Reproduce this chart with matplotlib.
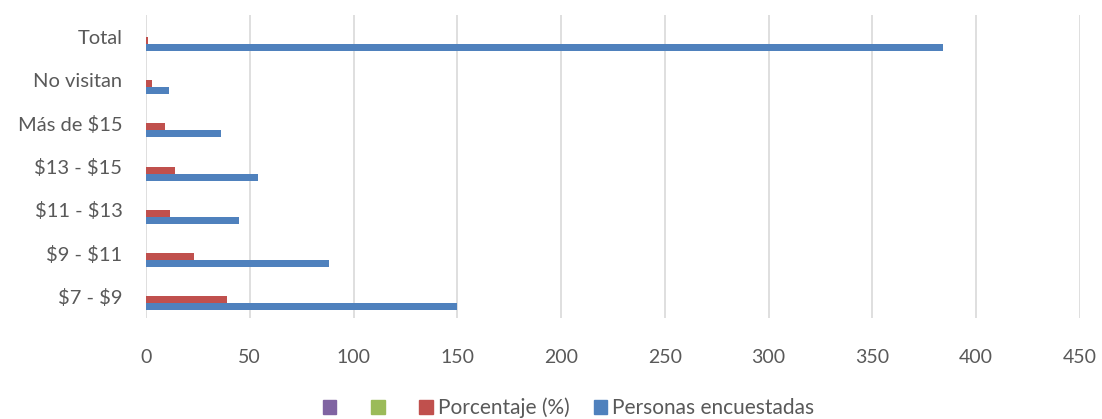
import numpy as np
import matplotlib.pyplot as plt
from matplotlib.patches import Patch

plt.rcParams['font.family'] = ['Lato', 'DejaVu Sans']

categorias = ['\\$7 - \\$9', '\\$9 - \\$11', '\\$11 - \\$13', '\\$13 - \\$15',
              'Más de \\$15', 'No visitan', 'Total']
personas = [150, 88, 45, 54, 36, 11, 384]
porcentaje = [39.06, 22.92, 11.72, 14.06, 9.38, 2.86, 1.0]
serie3 = [0, 0, 0, 0, 0, 0, 0]
serie4 = [0, 0, 0, 0, 0, 0, 0]

azul = '#4F81BD'
rojo = '#C0504D'
verde = '#9BBB59'
morado = '#8064A2'
gris = '#595959'

fig = plt.figure(figsize=(11.02, 4.19), dpi=100)
ax = fig.add_axes([0.1325, 0.241, 0.8475, 0.723])

y = np.arange(len(categorias))
h = 0.162
ax.barh(y - 1.5 * h, personas, height=h, color=azul)
ax.barh(y - 0.5 * h, porcentaje, height=h, color=rojo)
ax.barh(y + 0.5 * h, serie3, height=h, color=verde)
ax.barh(y + 1.5 * h, serie4, height=h, color=morado)

ax.set_xlim(0, 450)
ax.set_ylim(-0.5, len(categorias) - 0.5)
ax.set_xticks(np.arange(0, 451, 50))
ax.set_yticks(y)
ax.set_yticklabels(categorias)
ax.tick_params(axis='both', length=0, colors=gris)
ax.tick_params(axis='x', pad=22, labelsize=14)
ax.tick_params(axis='y', pad=17, labelsize=14.5)
ax.grid(axis='x', color='#D9D9D9', linewidth=1.2)
ax.set_axisbelow(True)
for s in ax.spines.values():
    s.set_visible(False)

handles = [Patch(color=morado), Patch(color=verde), Patch(color=rojo), Patch(color=azul)]
labels = [' ', ' ', 'Porcentaje (%)', 'Personas encuestadas']
fig.legend(handles, labels, loc='center', bbox_to_anchor=(0.516, 0.027), ncol=4,
           frameon=False, fontsize=15, handlelength=0.65, handleheight=0.65,
           handletextpad=0.25, columnspacing=1.15, labelcolor=gris)

fig.savefig('out.png', dpi=100)
